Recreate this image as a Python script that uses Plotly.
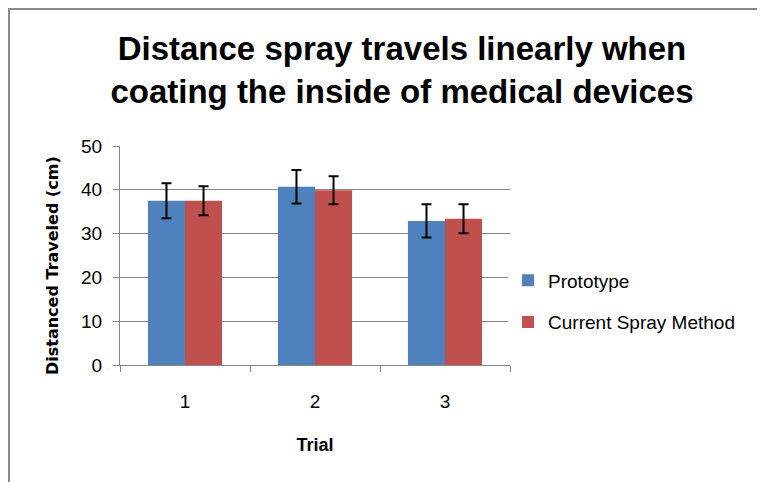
import plotly.graph_objects as go

trials = ["1", "2", "3"]
prototype = [37.5, 40.7, 32.9]
prototype_err = [4.0, 3.8, 3.8]
current = [37.5, 39.9, 33.4]
current_err = [3.3, 3.2, 3.3]
series_names = ["Prototype", "Current Spray Method"]

FONT = "Liberation Sans, Arial, sans-serif"

fig = go.Figure()
fig.add_trace(go.Bar(
    x=trials, y=prototype, name=series_names[0], legendgroup="a",
    marker=dict(color="#4F81BD", line=dict(width=0)),
    error_y=dict(type="data", array=prototype_err, visible=True,
                 color="black", thickness=2, width=5),
))
fig.add_trace(go.Bar(
    x=trials, y=current, name=series_names[1], legendgroup="b",
    marker=dict(color="#C0504D", line=dict(width=0)),
    error_y=dict(type="data", array=current_err, visible=True,
                 color="black", thickness=2, width=5),
))

fig.update_layout(
    width=765, height=482,
    margin=dict(l=112, r=263, t=138, b=125, autoexpand=False),
    paper_bgcolor="white", plot_bgcolor="white",
    barmode="group", bargap=0.43, bargroupgap=0,
    title=dict(
        text="Distance spray travels linearly when<br>coating the inside of medical devices",
        x=0.515, xanchor="center", yref="container", y=1 - 52 / 482, yanchor="middle",
        font=dict(family=FONT, size=33, color="black", weight="bold"),
    ),
    legend=dict(
        x=0.995, xanchor="left", y=0.29, yanchor="middle",
        font=dict(family=FONT, size=19, color="black"),
        traceorder="grouped", tracegroupgap=14,
        itemwidth=30,
    ),
    xaxis=dict(
        type="category", tickson="boundaries", automargin=False,
        ticks="outside", ticklen=6, tickcolor="#868686",
        showline=True, linecolor="#868686", linewidth=1,
        ticklabelstandoff=19,
        tickfont=dict(family=FONT, size=19, color="black"),
        title=dict(text="Trial", font=dict(family=FONT, size=18, color="black", weight="bold"), standoff=27),
        showgrid=False,
    ),
    yaxis=dict(
        range=[0, 50], dtick=10, automargin=False,
        ticks="outside", ticklen=6, tickcolor="#868686",
        showline=True, linecolor="#868686", linewidth=1,
        showgrid=True, gridcolor="#868686", gridwidth=1,
        zeroline=False, ticklabelstandoff=7,
        tickfont=dict(family=FONT, size=19, color="black"),
    ),
    annotations=[dict(
        text="Distanced Traveled (cm)", textangle=-90, showarrow=False,
        xref="paper", yref="paper", x=(52 - 120) / 390, y=(365 - 266) / 219,
        xanchor="center", yanchor="middle",
        font=dict(family="DejaVu Sans", size=16, color="black", weight="bold"),
    )],
    shapes=[dict(
        type="rect", xref="paper", yref="paper",
        x0=(9 - 120) / 390, x1=1.8, y0=-1.0, y1=1 + (146 - 9) / 219,
        line=dict(color="#8a8a8a", width=2), fillcolor="rgba(0,0,0,0)", layer="below",
    )],
)

fig.write_html("out.html")
